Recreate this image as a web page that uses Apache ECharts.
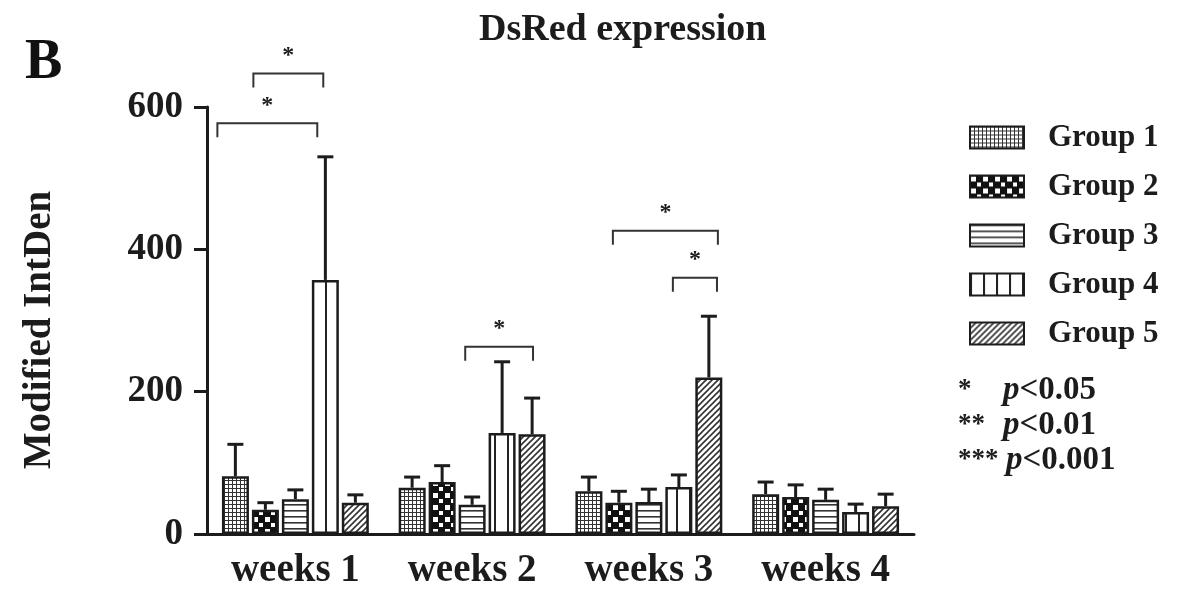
<!DOCTYPE html>
<html>
<head>
<meta charset="utf-8">
<script src="https://cdn.jsdelivr.net/npm/echarts@6/dist/echarts.min.js"></script>
<style>
html,body{margin:0;padding:0;background:#fff;}
#chart{width:1179px;height:593px;}
</style>
</head>
<body>
<div id="chart"></div>
<script>
// ---- data ----
const categories = ['weeks 1', 'weeks 2', 'weeks 3', 'weeks 4'];
const groupNames = ['Group 1', 'Group 2', 'Group 3', 'Group 4', 'Group 5'];
const group1Mean = [81, 65, 60, 56];
const group2Mean = [34, 73, 44, 52];
const group3Mean = [49, 41, 45, 48];
const group4Mean = [357, 142, 66, 31];
const group5Mean = [44, 140, 220, 39];
const group1Sd = [45, 15, 20, 17];
const group2Sd = [10, 23, 16, 17];
const group3Sd = [13, 11, 18, 15];
const group4Sd = [173, 100, 17, 11];
const group5Sd = [11, 51, 86, 17];
const yTicks = [0, 200, 400, 600];
// significance brackets: [category index, from group pos, to group pos, height value]
const brackets = [
  [0, -0.6, 2.73, 577],
  [0, 0.6, 2.93, 647],
  [1, 1.77, 4.03, 263],
  [2, 0.8, 4.3, 426],
  [2, 2.8, 4.27, 360]
];
const pLegend = [['*', '<0.05'], ['**', '<0.01'], ['***', '<0.001']];

// ---- styling ----
const FONT = '"Liberation Serif", "Times New Roman", serif';
const INK = '#1c1c1c';
const BAR_W = 27;
const PITCH = 30;

function makePattern(kind) {
  const c = document.createElement('canvas');
  let ctx;
  if (kind === 0) {
    c.width = 4; c.height = 4; ctx = c.getContext('2d');
    ctx.fillStyle = '#fff'; ctx.fillRect(0, 0, 4, 4);
    ctx.fillStyle = '#333'; ctx.fillRect(0, 0, 4, 1); ctx.fillRect(0, 0, 1, 4);
  } else if (kind === 1) {
    c.width = 12; c.height = 12; ctx = c.getContext('2d');
    ctx.fillStyle = '#111'; ctx.fillRect(0, 0, 12, 12);
    ctx.fillStyle = '#fff'; ctx.fillRect(1, 1, 5, 5); ctx.fillRect(7, 7, 4, 4);
  } else if (kind === 2) {
    c.width = 6; c.height = 6; ctx = c.getContext('2d');
    ctx.fillStyle = '#fff'; ctx.fillRect(0, 0, 6, 6);
    ctx.fillStyle = '#333'; ctx.fillRect(0, 0, 6, 1.6);
  } else if (kind === 3) {
    c.width = 13; c.height = 4; ctx = c.getContext('2d');
    ctx.fillStyle = '#fff'; ctx.fillRect(0, 0, 13, 4);
    ctx.fillStyle = '#222'; ctx.fillRect(0, 0, 2, 4);
  } else {
    c.width = 6; c.height = 6; ctx = c.getContext('2d');
    ctx.fillStyle = '#fff'; ctx.fillRect(0, 0, 6, 6);
    ctx.strokeStyle = '#333'; ctx.lineWidth = 1.6;
    ctx.beginPath();
    ctx.moveTo(-1, 7); ctx.lineTo(7, -1);
    ctx.moveTo(-4, 4); ctx.lineTo(4, -4);
    ctx.moveTo(2, 10); ctx.lineTo(10, 2);
    ctx.stroke();
  }
  return { image: c, repeat: 'repeat' };
}

const means = [group1Mean, group2Mean, group3Mean, group4Mean, group5Mean];
const sds = [group1Sd, group2Sd, group3Sd, group4Sd, group5Sd];

const barSeries = groupNames.map((name, g) => ({
  name: name,
  type: 'bar',
  data: means[g],
  barWidth: BAR_W,
  barGap: '11%',
  itemStyle: { color: makePattern(g), borderColor: INK, borderWidth: 2.5 },
  emphasis: { disabled: true }
}));

const errData = [];
means.forEach((arr, g) => arr.forEach((m, ci) => errData.push([ci, m, sds[g][ci], g])));

const errSeries = {
  type: 'custom',
  name: 'err',
  clip: false,
  z: 3,
  encode: { x: 0, y: 1 },
  data: errData,
  renderItem: function (params, api) {
    const ci = api.value(0), m = api.value(1), sd = api.value(2), g = api.value(3);
    const p0 = api.coord([ci, m]);
    const p1 = api.coord([ci, m + sd]);
    const x = p0[0] + (g - 2) * PITCH;
    const st = { stroke: INK, lineWidth: 3 };
    return {
      type: 'group',
      children: [
        { type: 'line', shape: { x1: x, y1: p0[1], x2: x, y2: p1[1] }, style: st },
        { type: 'line', shape: { x1: x - 8, y1: p1[1], x2: x + 8, y2: p1[1] }, style: st }
      ]
    };
  }
};

const bracketSeries = {
  type: 'custom',
  name: 'sig',
  clip: false,
  z: 4,
  encode: { x: 0, y: 3 },
  data: brackets,
  renderItem: function (params, api) {
    const ci = api.value(0), a = api.value(1), b = api.value(2), v = api.value(3);
    const base = api.coord([ci, v]);
    const x1 = base[0] + (a - 2) * PITCH;
    const x2 = base[0] + (b - 2) * PITCH;
    const y = base[1];
    return {
      type: 'group',
      children: [
        { type: 'polyline', shape: { points: [[x1, y + 14], [x1, y], [x2, y], [x2, y + 14]] },
          style: { stroke: '#333', lineWidth: 2, fill: null } },
        { type: 'text', style: { text: '*', x: (x1 + x2) / 2, y: y - 6, align: 'center', verticalAlign: 'bottom',
          font: 'bold 24px ' + FONT, fill: INK } }
      ]
    };
  }
};

const graphics = [
  { type: 'text', x: 40, y: 330, rotation: Math.PI / 2, style: {
    text: 'Modified IntDen', align: 'center', verticalAlign: 'middle',
    font: 'bold 39px ' + FONT, fill: INK } }
];
pLegend.forEach((row, i) => {
  const y = 392 + i * 35;
  graphics.push({ type: 'text', left: 958, top: y - 15, style: { text: row[0], font: 'bold 27px ' + FONT, fill: INK } });
  graphics.push({ type: 'text', left: i === 2 ? 1006 : 1003, top: y - 18, style: {
    text: '{p|p}{v|' + row[1] + '}',
    rich: {
      p: { font: 'italic bold 33px ' + FONT, fill: INK },
      v: { font: 'bold 33px ' + FONT, fill: INK }
    }
  } });
});

const chart = echarts.init(document.getElementById('chart'), null, { renderer: 'canvas' });
chart.setOption({
  backgroundColor: '#fff',
  animation: false,
  title: [
    { text: 'B', left: 20, top: 31, textStyle: { fontFamily: FONT, fontWeight: 'bold', fontSize: 56, color: '#111' } },
    { text: 'DsRed expression', left: 474, top: 6, textStyle: { fontFamily: FONT, fontWeight: 'bold', fontSize: 38, color: INK } }
  ],
  legend: {
    data: groupNames,
    orient: 'vertical',
    left: 964,
    top: 117,
    itemWidth: 54,
    itemHeight: 22,
    itemGap: 18,
    icon: 'rect',
    selectedMode: false,
    textStyle: { fontFamily: FONT, fontWeight: 'bold', fontSize: 31, color: INK, padding: [0, 0, 0, 19] }
  },
  grid: { left: 207, right: 265, top: 107, bottom: 59 },
  xAxis: {
    type: 'category',
    data: categories,
    axisLine: { lineStyle: { color: INK, width: 3 } },
    axisTick: { alignWithLabel: true, length: 10, lineStyle: { color: INK, width: 3 } },
    axisLabel: { fontFamily: FONT, fontWeight: 'bold', fontSize: 39, color: INK, margin: 17 }
  },
  yAxis: {
    type: 'value',
    min: yTicks[0],
    max: yTicks[yTicks.length - 1],
    interval: yTicks[1] - yTicks[0],
    splitLine: { show: false },
    axisLine: { show: true, lineStyle: { color: INK, width: 3 } },
    axisTick: { show: true, length: 13, lineStyle: { color: INK, width: 3 } },
    axisLabel: { fontFamily: FONT, fontWeight: 'bold', fontSize: 37, color: INK, margin: 24 }
  },
  graphic: graphics,
  series: barSeries.concat([errSeries, bracketSeries])
});
</script>
</body>
</html>
